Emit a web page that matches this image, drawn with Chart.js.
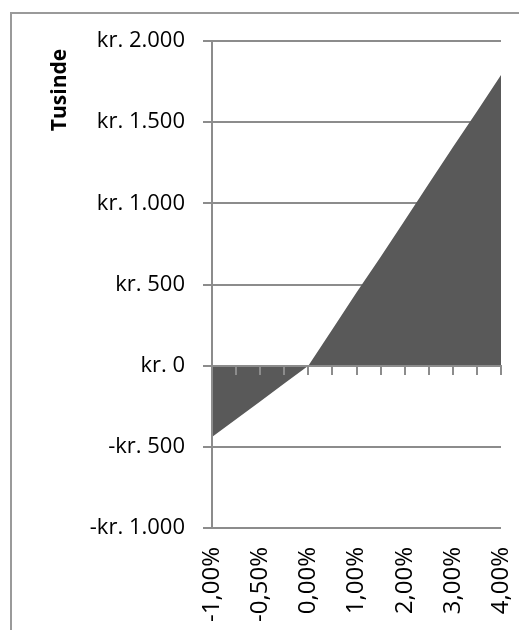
<!DOCTYPE html>
<html>
<head>
<meta charset="utf-8">
<script src="https://cdn.jsdelivr.net/npm/chart.js@4/dist/chart.umd.min.js"></script>
<style>
  html, body { margin: 0; padding: 0; background: #fff; }
  #frame { position: absolute; left: 10px; top: 12px; width: 520px; height: 640px;
           border-left: 2px solid #9a9a9a; border-top: 2px solid #9a9a9a; box-sizing: border-box; }
  #wrap { position: absolute; left: 0; top: 0; width: 519px; height: 630px; }
</style>
</head>
<body>
<div id="frame"></div>
<div id="wrap"><canvas id="c" width="519" height="630"></canvas></div>
<script>
// Categories (interest-rate change); only every other label is shown
const categories = ['-1,00%', '-0,75%', '-0,50%', '-0,25%', '0,00%', '0,50%', '1,00%', '1,50%', '2,00%', '2,50%', '3,00%', '3,50%', '4,00%'];
// Values in thousands of kroner
const values = [-440, -330, -220, -110, 0, 225, 450, 670, 895, 1120, 1345, 1565, 1790];
// Y axis ticks
const yTicks = [-1000, -500, 0, 500, 1000, 1500, 2000];
const yTitle = 'Tusinde';

const GRID = '#8c8c8c';
const FILL = '#595959';

function fmt(v) {
  const s = String(Math.abs(v)).replace(/\B(?=(\d{3})+(?!\d))/g, '.');
  return (v < 0 ? '-kr. ' : 'kr. ') + s;
}

Chart.defaults.font.family = "'Open Sans', sans-serif";
Chart.defaults.font.size = 22;
Chart.defaults.color = '#000';

const titlePlugin = {
  id: 'ytitle',
  afterDraw(chart) {
    const ctx = chart.ctx;
    ctx.save();
    ctx.translate(60, 90);
    ctx.rotate(-Math.PI / 2);
    ctx.font = "bold 21px 'Open Sans', sans-serif";
    ctx.fillStyle = '#000';
    ctx.textAlign = 'center';
    ctx.textBaseline = 'middle';
    ctx.fillText(yTitle, 0, 0);
    ctx.restore();
  }
};

new Chart(document.getElementById('c'), {
  type: 'line',
  data: {
    labels: categories,
    datasets: [{
      data: values,
      fill: 'origin',
      backgroundColor: FILL,
      borderColor: FILL,
      borderWidth: 0,
      pointRadius: 0,
      tension: 0
    }]
  },
  options: {
    responsive: false,
    animation: false,
    events: [],
    layout: { padding: { left: 0, top: 41, right: 18, bottom: 0 } },
    plugins: { legend: { display: false }, tooltip: { enabled: false } },
    scales: {
      x: {
        type: 'category',
        position: 'bottom',
        offset: false,
        grid: { display: false, drawTicks: false },
        border: { display: false },
        ticks: {
          autoSkip: false,
          minRotation: 90,
          maxRotation: 90,
          padding: 19,
          font: { size: 24 },
          callback: (v, i) => (i % 2 === 0 ? categories[i] : '')
        },
        afterFit: (s) => { s.height = 102; s.paddingLeft = 0; s.paddingRight = 0; }
      },
      x2: {
        type: 'category',
        labels: categories,
        position: { y: 0 },
        offset: false,
        grid: { drawOnChartArea: false, drawTicks: true, tickLength: 8, color: GRID, lineWidth: 2, z: 1 },
        border: { display: true, color: GRID, width: 2, z: 1 },
        ticks: { display: false },
        afterFit: (s) => { s.paddingLeft = 0; s.paddingRight = 0; }
      },
      y: {
        min: -1000,
        max: 2000,
        afterBuildTicks: (s) => { s.ticks = yTicks.map(v => ({ value: v })); },
        grid: { color: GRID, lineWidth: 2, tickLength: 9, drawTicks: true },
        border: { display: true, color: GRID, width: 2, z: 1 },
        ticks: { padding: 18, callback: (v) => fmt(v) },
        afterFit: (s) => { s.width = 212; s.paddingTop = 0; s.paddingBottom = 0; }
      }
    }
  },
  plugins: [titlePlugin]
});
</script>
</body>
</html>
